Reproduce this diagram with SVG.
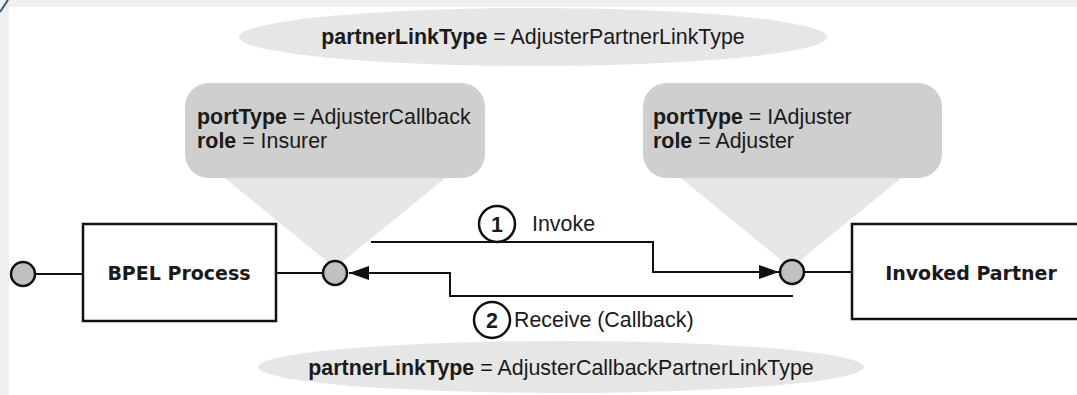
<svg xmlns="http://www.w3.org/2000/svg" width="1077" height="395" viewBox="0 0 1077 395">
<defs>
<style>
.t{font-family:"Liberation Sans",Arial,sans-serif;font-size:21.4px;fill:#1a1a1a}
.b{font-weight:bold}
.box{font-family:"DejaVu Sans",Verdana,sans-serif;font-size:19px;font-weight:bold;fill:#1a1a1a}
.oval{fill:#e6e6e6}
.call{fill:#cfcfcf}
.tri{fill:#e6e6e6}
.port{fill:#c0c0c0;stroke:#111;stroke-width:2.5}
.ln{stroke:#111;stroke-width:2;fill:none}
.nb{fill:#fff;stroke:#111;stroke-width:2.5}
</style>
<marker id="ah" viewBox="0 0 20 14" refX="20" refY="7" markerWidth="20" markerHeight="14" markerUnits="userSpaceOnUse" orient="auto">
<path d="M0,0 L20,7 L0,14 Z" fill="#111"/>
</marker>
</defs>
<rect x="0" y="0" width="1077" height="395" fill="#edf0f3"/>
<rect x="9" y="7" width="1068" height="388" fill="#fff"/>
<line x1="0" y1="12" x2="8" y2="0" stroke="#3a5a70" stroke-width="2"/>

<g id="plt-top">
<ellipse class="oval" cx="533" cy="37" rx="294" ry="29"/>
<text class="t" x="533" y="44" text-anchor="middle"><tspan class="b">partnerLinkType</tspan> = AdjusterPartnerLinkType</text>
</g>

<g id="callout-left">
<polygon class="tri" points="215,170 455,170 335,268"/>
<rect class="call" x="185" y="83" width="300" height="95" rx="24"/>
<text class="t" x="197" y="124"><tspan class="b">portType</tspan> = AdjusterCallback</text>
<text class="t" x="197" y="148"><tspan class="b">role</tspan> = Insurer</text>
</g>

<g id="callout-right">
<polygon class="tri" points="671,170 911,170 791,268"/>
<rect class="call" x="643" y="83" width="299" height="95" rx="24"/>
<text class="t" x="653" y="124"><tspan class="b">portType</tspan> = IAdjuster</text>
<text class="t" x="653" y="148"><tspan class="b">role</tspan> = Adjuster</text>
</g>

<g id="connectors">
<line class="ln" x1="35" y1="274" x2="83" y2="274"/>
<line class="ln" x1="276" y1="273" x2="323" y2="273"/>
<line class="ln" x1="804" y1="272" x2="852" y2="272"/>
<polyline class="ln" points="371,242 653,242 653,272 779,272" marker-end="url(#ah)"/>
<polyline class="ln" points="793,296 450,296 450,273 349,273" marker-end="url(#ah)"/>
</g>

<g id="port-outer">
<circle class="port" cx="23" cy="274" r="12"/>
</g>
<g id="bpel-process">
<rect x="83" y="224" width="193" height="97" fill="#fff" stroke="#111" stroke-width="2.5"/>
<text class="box" x="179" y="280" text-anchor="middle">BPEL Process</text>
</g>
<g id="port-bpel">
<circle class="port" cx="335" cy="273" r="12"/>
</g>
<g id="port-partner">
<circle class="port" cx="792" cy="272" r="12"/>
</g>
<g id="invoked-partner">
<rect x="852" y="224" width="240" height="95" fill="#fff" stroke="#111" stroke-width="2.5"/>
<text class="box" x="971" y="280" text-anchor="middle">Invoked Partner</text>
</g>

<g id="label-invoke">
<circle class="nb" cx="497" cy="224" r="18"/>
<text class="t b" x="497" y="232" text-anchor="middle">1</text>
<text class="t" x="532" y="231">Invoke</text>
</g>
<g id="label-receive">
<circle class="nb" cx="492" cy="320" r="18"/>
<text class="t b" x="492" y="328" text-anchor="middle">2</text>
<text class="t" x="514" y="327">Receive (Callback)</text>
</g>

<g id="plt-bottom">
<ellipse class="oval" cx="561" cy="367" rx="303" ry="26"/>
<text class="t" x="561" y="375" text-anchor="middle"><tspan class="b">partnerLinkType</tspan> = AdjusterCallbackPartnerLinkType</text>
</g>
</svg>
